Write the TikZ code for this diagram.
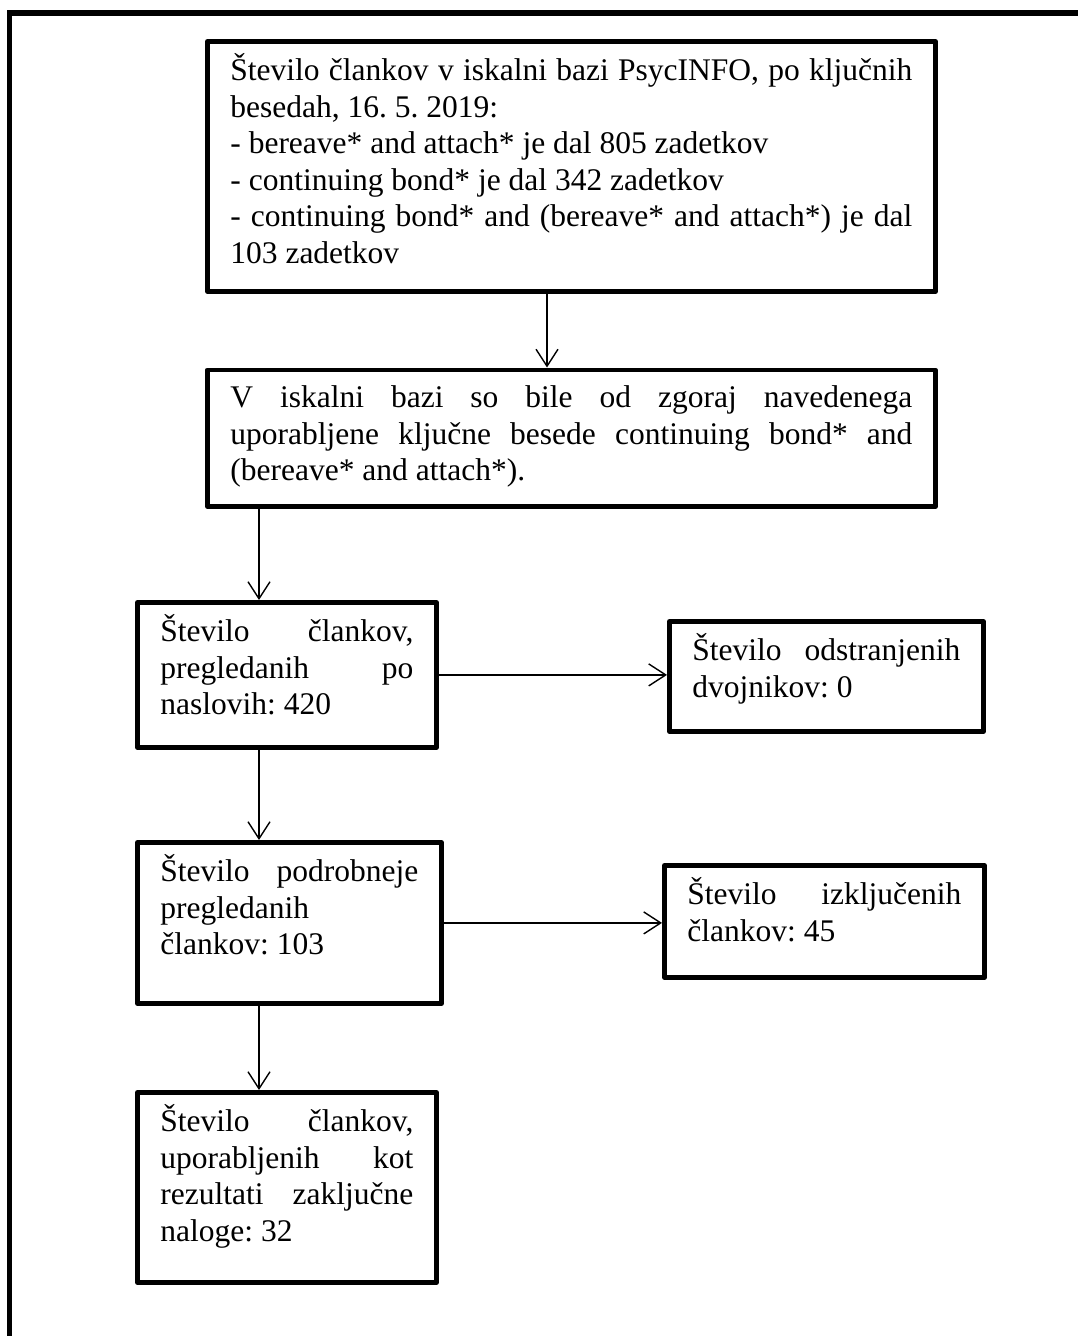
\documentclass[tikz,border=0pt]{standalone}
\usepackage{fontspec}
\setmainfont{Liberation Serif}
\usetikzlibrary{arrows.meta}
\frenchspacing
\hbadness=10000 \vbadness=10000 \tolerance=10000 \hyphenpenalty=10000
\hfuzz=20pt \vfuzz=20pt
\newcommand{\boxtext}[3]{\parbox[t][#1][t]{#2}{\strut #3}}

\begin{document}
\begin{tikzpicture}[x=1pt, y=-1pt, font=\fontsize{31.5}{36.6}\selectfont,
  box/.style={draw, line width=4.8pt, line join=round, anchor=north west, inner xsep=23pt, inner ysep=12pt},
  arr/.style={line width=1.4pt, -{Straight Barb[length=17pt, width=22pt, line width=1.4pt]}},
]
  \useasboundingbox (0,0) rectangle (1078,1336);
  \clip (0,0) rectangle (1078,1336);
  \draw[line width=5.5pt] (1095,13) -| (9.5,1350);

  \coordinate (mid) at (547,0);
  \coordinate (spine) at (259,0);

  \node[box] (q1) at (205,39) {\boxtext{226pt}{682pt}{%
    Število člankov v iskalni bazi PsycINFO, po ključnih\linebreak besedah, 16. 5. 2019:\par
    - bereave* and attach* je dal 805 zadetkov\par
    - continuing bond* je dal 342 zadetkov\par
    - continuing bond* and (bereave* and attach*) je dal\linebreak 103 zadetkov}};
  \node[box] (q2) at (205,367.5) {\boxtext{112.5pt}{682pt}{%
    V iskalni bazi so bile od zgoraj navedenega\linebreak uporabljene ključne besede continuing bond* and\linebreak (bereave* and attach*).}};
  \node[box] (q3) at (135,600) {\boxtext{121pt}{253pt}{%
    Število člankov,\linebreak pregledanih po\linebreak naslovih: 420}};
  \node[box] (q4) at (667,619) {\boxtext{86pt}{268pt}{%
    Število odstranjenih\linebreak dvojnikov: 0}};
  \node[box] (q5) at (135,840) {\boxtext{137pt}{258pt}{%
    Število podrobneje\linebreak pregledanih\linebreak člankov: 103}};
  \node[box] (q6) at (662,863) {\boxtext{88pt}{274pt}{%
    Število izključenih\linebreak člankov: 45}};
  \node[box] (q7) at (135,1090) {\boxtext{166pt}{253pt}{%
    Število člankov,\linebreak uporabljenih kot\linebreak rezultati zaključne\linebreak naloge: 32}};

  \draw[arr] (q1.south -| mid) -- (q2.north -| mid);
  \draw[arr] (q2.south -| spine) -- (q3.north -| spine);
  \draw[arr] (q3.south -| spine) -- (q5.north -| spine);
  \draw[arr] (q5.south -| spine) -- (q7.north -| spine);
  \draw[arr] (q3.east) -- (q3.east -| q4.west);
  \draw[arr] (q5.east) -- (q5.east -| q6.west);
\end{tikzpicture}
\end{document}
